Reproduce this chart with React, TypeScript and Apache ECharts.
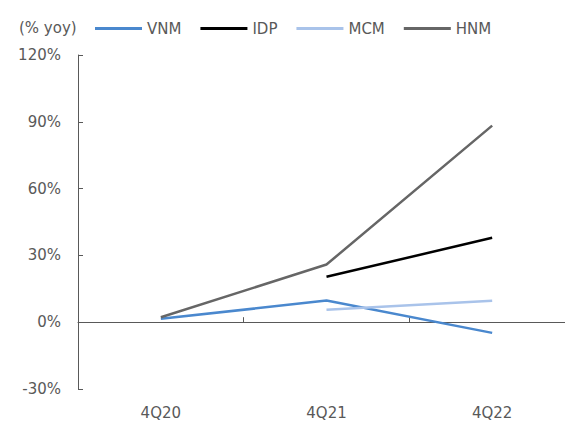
import React, { useEffect, useRef } from "react";
import * as echarts from "echarts";

const categories = ["4Q20", "4Q21", "4Q22"];
const vnm = [1.5, 9.7, -4.8];
const idp = [null, 20.4, 37.9];
const mcm = [null, 5.6, 9.6];
const hnm = [2.2, 25.9, 88.3];
const seriesNames = ["VNM", "IDP", "MCM", "HNM"];
const colors = ["#4A88CE", "#000000", "#A9C3EA", "#666666"];

const FONT = "DejaVu Sans";
const TXT = "#595959";
const FS = 15;

export default function App() {
  const ref = useRef<HTMLDivElement>(null);
  useEffect(() => {
    const chart = echarts.init(ref.current!, null, { renderer: "svg" });
    const data = [vnm, idp, mcm, hnm];
    chart.setOption({
      animation: false,
      grid: { left: 78, top: 55, width: 497, height: 334, outerBoundsMode: "none", containLabel: false },
      graphic: [
        {
          type: "text",
          left: 19,
          top: 20,
          style: { text: "(% yoy)", font: `${FS}px "${FONT}"`, fill: TXT },
        },
      ],
      legend: {
        left: 95,
        top: 21,
        padding: 0,
        itemWidth: 47,
        itemHeight: 3,
        itemGap: 19,
        icon: "rect",
        textStyle: { fontFamily: FONT, fontSize: FS, color: TXT },
        data: seriesNames,
      },
      xAxis: [
        {
          type: "category",
          data: categories,
          position: "bottom",
          axisLine: { onZero: true, lineStyle: { color: "#595959", width: 1 } },
          axisTick: { show: true, inside: true, length: 5, lineStyle: { color: "#595959" } },
          axisLabel: { show: false },
        },
        {
          type: "category",
          data: categories,
          position: "bottom",
          axisLine: { show: false, onZero: false },
          axisTick: { show: false },
          axisLabel: { show: true, fontFamily: FONT, fontSize: FS, color: TXT, margin: 16 },
        },
      ],
      yAxis: {
        type: "value",
        min: -30,
        max: 120,
        interval: 30,
        splitLine: { show: false },
        axisLine: { show: true, lineStyle: { color: "#595959", width: 1 } },
        axisTick: { show: true, inside: true, length: 5, lineStyle: { color: "#595959" } },
        axisLabel: {
          fontFamily: FONT,
          fontSize: FS,
          color: TXT,
          margin: 17,
          formatter: (v: number) => `${v}%`,
        },
      },
      series: seriesNames.map((n, i) => ({
        name: n,
        type: "line",
        xAxisIndex: 0,
        data: data[i],
        symbol: "none",
        color: colors[i],
        lineStyle: { color: colors[i], width: 2.5 },
      })),
    });
    return () => chart.dispose();
  }, []);
  return <div ref={ref} style={{ width: 565, height: 423, position: "absolute", left: 0, top: 0 }} />;
}
